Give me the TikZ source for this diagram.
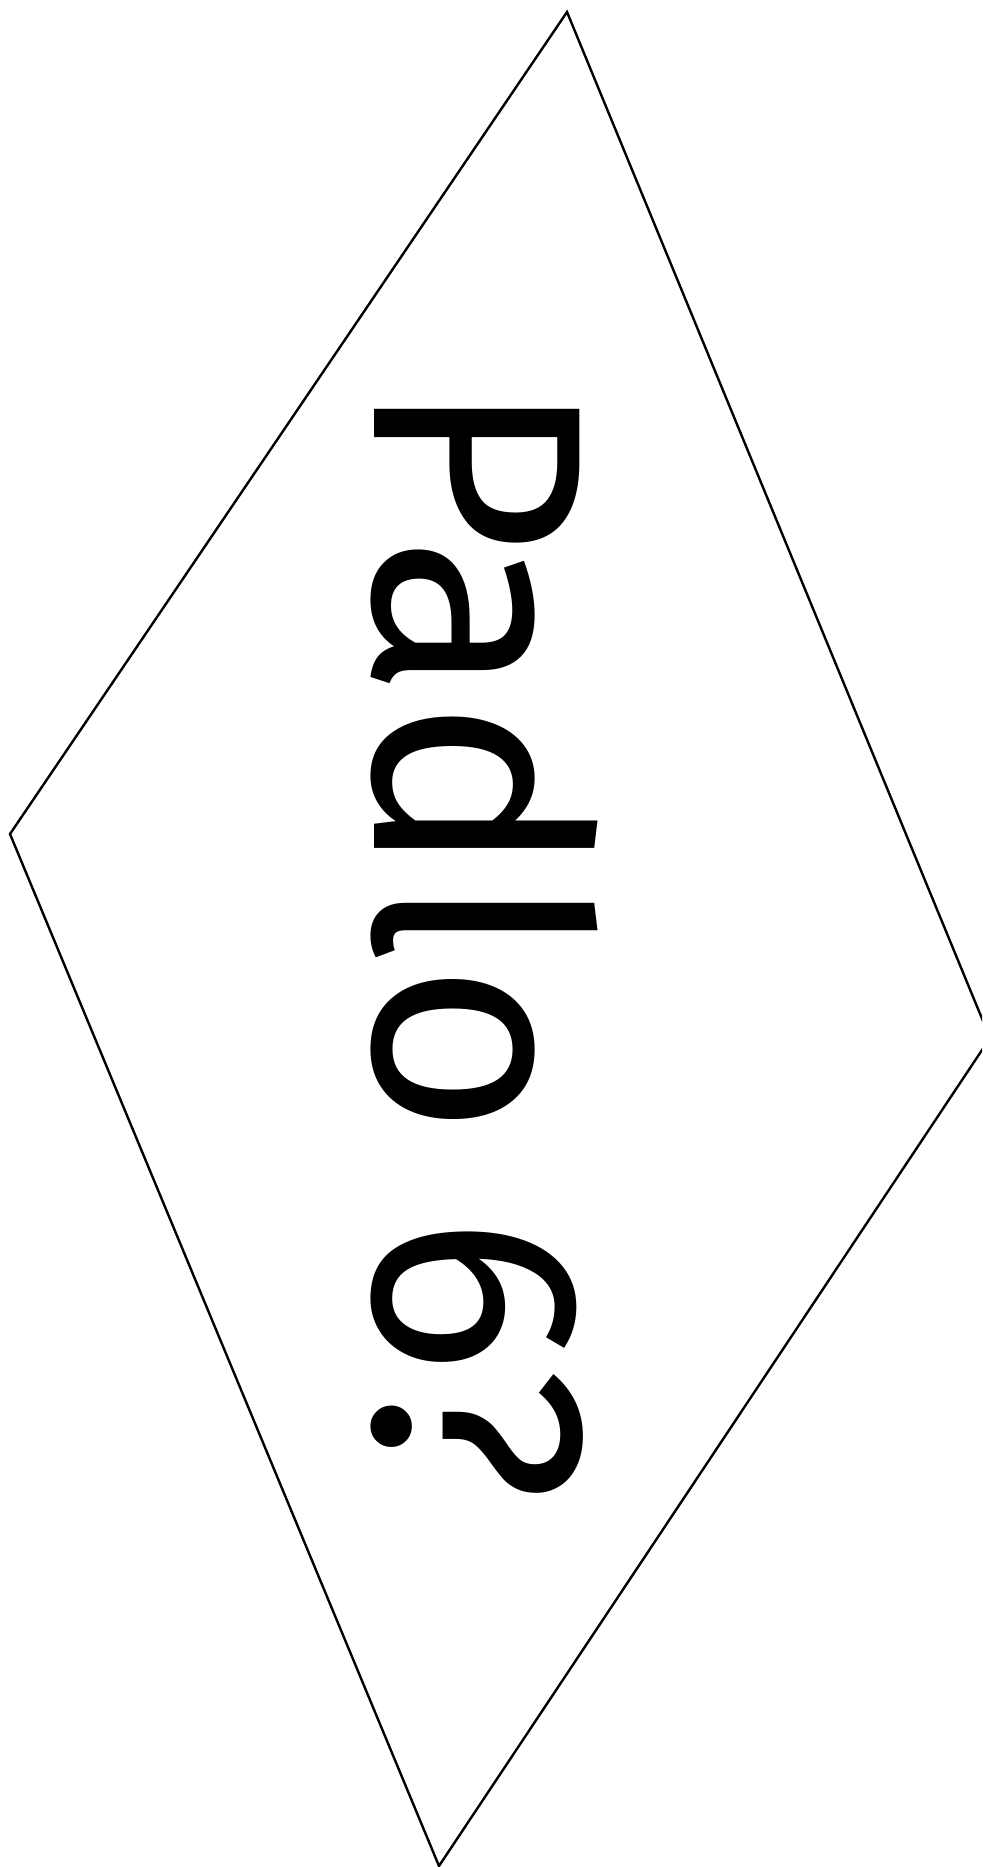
\documentclass[tikz,border=0pt]{standalone}
\usepackage{fontspec}
\setmainfont{Fira Sans}
\usepackage{tikz}
\tikzstyle{decisionline} = [draw=black, line width=1.2pt, line join=miter]
\tikzstyle{decisiontext} = [rotate=-90, anchor=base, inner sep=0pt, font=\fontsize{149}{179}\selectfont]

\begin{document}
\begin{tikzpicture}[x=0.5pt, y=-0.5pt]
\useasboundingbox (0, 0) rectangle (982, 1867);
\clip (0, 0) rectangle (982, 1867);
% Decision shape
\coordinate (top) at (567, 12);
\coordinate (right) at (990, 1038);
\coordinate (bottom) at (439, 1866);
\coordinate (left) at (10, 834);
\draw[decisionline] (top) -- (right) -- (bottom) -- (left) -- cycle;
% Question
\node[decisiontext] (question) at (374, 941) {Padlo 6?};
\end{tikzpicture}
\end{document}
